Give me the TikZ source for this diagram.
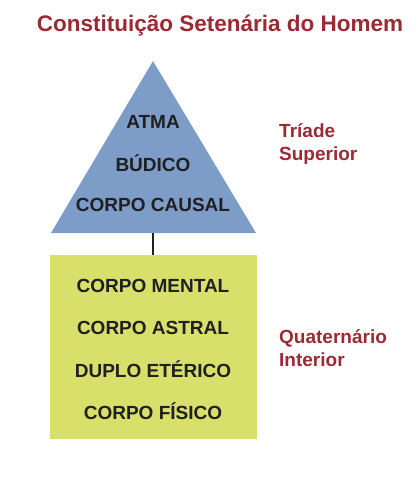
\documentclass[tikz,border=0pt]{standalone}
\usepackage{fontspec}
\setmainfont{Liberation Sans}
\definecolor{titlered}{HTML}{9A2A33}
\definecolor{triblue}{HTML}{7D9CC8}
\definecolor{boxyellow}{HTML}{D8E06B}
\definecolor{inkgrey}{HTML}{202020}
\tikzset{
  layer/.style={font=\fontsize{19}{23}\selectfont\bfseries, text=inkgrey, inner sep=0pt},
  group/.style={font=\fontsize{19}{23}\selectfont\bfseries, text=titlered, align=left, anchor=west, inner sep=0pt}
}
\begin{document}
\begin{tikzpicture}[x=1pt,y=-1pt]
                \useasboundingbox (0,0) rectangle (416,479);
                % title
                \node[font=\fontsize{22.5}{26}\selectfont\bfseries, text=titlered, inner sep=0pt] (title) at (220,26) {Constituição Setenária do Homem};
                % upper triad
                \fill[triblue] (153,61) coordinate (apex) -- (256,233) coordinate (tribr) -- (51,233) coordinate (tribl) -- cycle;
                \coordinate (tribase) at (153,233);
                \node[layer] (atma) at (153,122) {ATMA};
                \node[layer] (budico) at (153,163) {BÚDICO};
                \node[layer] (causal) at (153,205) {CORPO CAUSAL};
                \node[group] (triade) at (279,144.5) {Tríade\\Superior};
                % lower quaternary
                \fill[boxyellow] (50,255) coordinate (boxtl) rectangle (257,439) coordinate (boxbr);
                \coordinate (boxtop) at (153,255);
                \node[layer] (mental) at (153,286) {CORPO MENTAL};
                \node[layer] (astral) at (153,328) {CORPO ASTRAL};
                \node[layer] (eterico) at (153,369) {DUPLO ETÉRICO};
                \node[layer] (fisico) at (153,411) {CORPO FÍSICO};
                \node[group] (quaternario) at (279,348) {Quaternário\\Interior};
                % link
                \draw[line width=2.4pt, inkgrey] (tribase) -- (boxtop);
\end{tikzpicture}
\end{document}
